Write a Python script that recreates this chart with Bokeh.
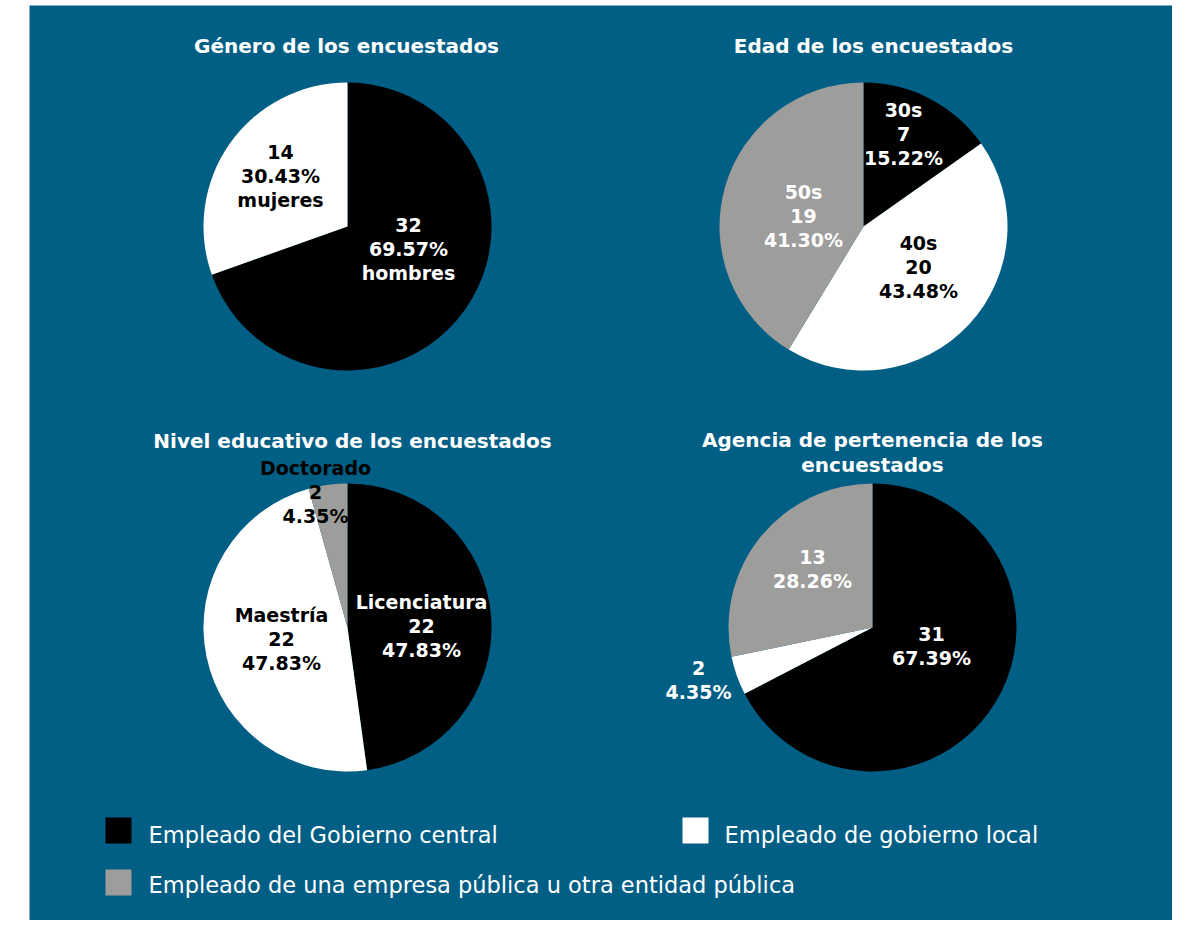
import math
from bokeh.plotting import figure
from bokeh.models import Range1d
from bokeh.embed import file_html
from bokeh.resources import INLINE
from bokeh.core.properties import value

# ---------------- data ----------------
titles = ["Género de los encuestados",
          "Edad de los encuestados",
          "Nivel educativo de los encuestados",
          "Agencia de pertenencia de los\nencuestados"]

gender_names = ["hombres", "mujeres"]
gender_counts = [32, 14]

age_names = ["30s", "40s", "50s"]
age_counts = [7, 20, 19]

edu_names = ["Licenciatura", "Maestría", "Doctorado"]
edu_counts = [22, 22, 2]

agency_names = ["Empleado del Gobierno central",
                "Empleado de gobierno local",
                "Empleado de una empresa pública u otra entidad pública"]
agency_counts = [31, 2, 13]

# ---------------- style / layout ----------------
W, H = 1172, 920
BG = "#015E85"
SLICE_COLORS = ["#000000", "#FFFFFF", "#9D9D9C"]
FONT = "DejaVu Sans"
LINE = 24

def dx(sx):  # screen x -> data x
    return sx

def dy(sy):  # screen y -> data y
    return H - sy

p = figure(width=W, height=H, x_range=Range1d(0, W), y_range=Range1d(0, H),
           output_backend="svg", toolbar_location=None, min_border=0)
p.axis.visible = False
p.grid.visible = False
p.outline_line_color = None
p.background_fill_color = "white"
p.border_fill_color = "white"

# blue panel
p.quad(left=dx(29), right=dx(1178), top=dy(5), bottom=dy(940),
       fill_color=BG, line_color=None)

R = 144
pies = [
    dict(counts=gender_counts, names=gender_names, cx=347, cy=226,
         fmt=lambda n, c, pc: [str(c), pc, n],
         tcol=["white", "black"], off=[(61, 22), (-67, -51)],
         title_xy=(346, 45)),
    dict(counts=age_counts, names=age_names, cx=863, cy=226,
         fmt=lambda n, c, pc: [n, str(c), pc],
         tcol=["white", "black", "white"], off=[(40, -93), (55, 40), (-60, -11)],
         title_xy=(873, 45)),
    dict(counts=edu_counts, names=edu_names, cx=347, cy=627,
         fmt=lambda n, c, pc: [n, str(c), pc],
         tcol=["white", "black", "black"], off=[(74, -2), (-66, 11), (-32, -136)],
         title_xy=(352, 440)),
    dict(counts=agency_counts, names=agency_names, cx=872, cy=627,
         fmt=lambda n, c, pc: [str(c), pc],
         tcol=["white", "white", "white"], off=[(59, 18), (-174, 52), (-60, -59)],
         title_xy=(872, 452)),
]

for i, pie in enumerate(pies):
    counts = pie["counts"]
    total = sum(counts)
    cum = 0
    starts, ends, xs, ys, cols = [], [], [], [], []
    texts, tx, ty, tc = [], [], [], []
    for j, c in enumerate(counts):
        a0 = math.pi / 2 - 2 * math.pi * cum / total
        cum += c
        a1 = math.pi / 2 - 2 * math.pi * cum / total
        starts.append(a0)
        ends.append(a1)
        xs.append(dx(pie["cx"]))
        ys.append(dy(pie["cy"]))
        cols.append(SLICE_COLORS[j])
        pct = f"{100 * c / total:.2f}%"
        lines = pie["fmt"](pie["names"][j], c, pct)
        ox, oy = pie["off"][j]
        n = len(lines)
        for k, ln in enumerate(lines):
            texts.append(ln)
            tx.append(dx(pie["cx"] + ox))
            ty.append(dy(pie["cy"] + oy + (k - (n - 1) / 2) * LINE))
            tc.append(pie["tcol"][j])
    p.wedge(x=xs, y=ys, radius=R, start_angle=starts, end_angle=ends,
            direction="clock", fill_color=cols, line_color=None)
    p.text(x=tx, y=ty, text=texts, text_color=tc,
           text_align="center", text_baseline="middle",
           text_font=value(FONT), text_font_style="bold",
           text_font_size="19px")
    tl = titles[i].split("\n")
    txy = pie["title_xy"]
    p.text(x=[dx(txy[0])] * len(tl),
           y=[dy(txy[1] + (k - (len(tl) - 1) / 2) * 25) for k in range(len(tl))],
           text=tl, text_color="white",
           text_align="center", text_baseline="middle",
           text_font=value(FONT), text_font_style="bold",
           text_font_size="20px")

# legend
leg_sq = [(118, 830), (695, 830), (118, 882)]
leg_tx = [(148, 834), (724, 834), (148, 884)]
p.rect(x=[dx(s[0]) for s in leg_sq], y=[dy(s[1]) for s in leg_sq],
       width=26, height=26, fill_color=SLICE_COLORS, line_color=None)
p.text(x=[dx(t[0]) for t in leg_tx], y=[dy(t[1]) for t in leg_tx],
       text=agency_names, text_color="white", text_align="left",
       text_baseline="middle", text_font=value(FONT), text_font_size="22.5px")

open("out.html", "w").write(file_html(p, INLINE))
